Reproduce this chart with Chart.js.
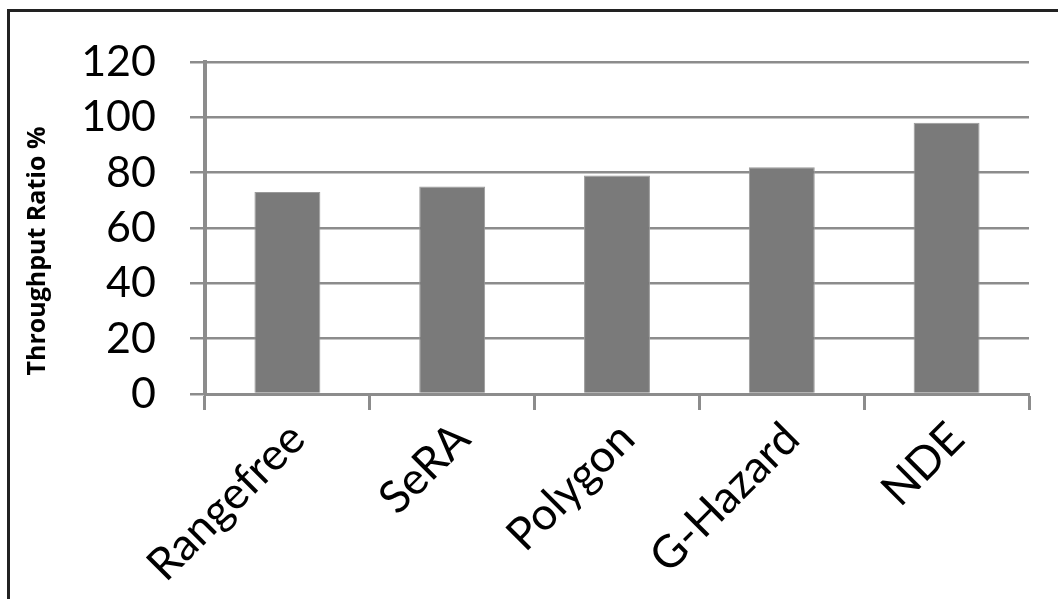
<!DOCTYPE html>
<html>
<head>
<meta charset="utf-8">
<script src="https://cdn.jsdelivr.net/npm/chart.js@4.4.0/dist/chart.umd.min.js"></script>
<style>
  html, body { margin: 0; padding: 0; background: #fff; }
  #wrap { position: relative; width: 1058px; height: 599px; overflow: hidden; }
  #frame { position: absolute; left: 7px; top: 9px; right: -10px; bottom: -10px; border-top: 3px solid #222; border-left: 3px solid #222; }
  canvas { position: absolute; left: 0; top: 0; }
</style>
</head>
<body>
<div id="wrap">
  <div id="frame"></div>
  <canvas id="chart" width="1058" height="599"></canvas>
</div>
<script>
const categories = ['Rangefree', 'SeRA', 'Polygon', 'G-Hazard', 'NDE']
const throughputRatio = [73, 75, 79, 82, 98]
const yTicks = [0, 20, 40, 60, 80, 100, 120]
const yTitle = 'Throughput Ratio %'

const gridColor = '#8c8c8c'

// axis title drawn by hand so it can sit a bit lower than the chart area centre, like the original
const yTitlePlugin = {
  id: 'yTitle',
  afterDraw: (chart) => {
    const ctx = chart.ctx
    ctx.save()
    ctx.translate(38, 251)
    ctx.rotate(-Math.PI / 2)
    ctx.font = 'bold 25px "Open Sans"'
    ctx.fillStyle = '#000'
    ctx.textAlign = 'center'
    ctx.textBaseline = 'middle'
    ctx.fillText(yTitle, 0, 0)
    ctx.restore()
  }
}

new Chart(document.getElementById('chart'), {
  type: 'bar',
  data: {
    labels: categories,
    datasets: [
      {
        label: yTitle,
        data: throughputRatio,
        backgroundColor: '#7a7a7a',
        borderColor: '#9a9a9a',
        borderWidth: 1,
        barPercentage: 0.8,
        categoryPercentage: 0.5,
      },
    ],
  },
  options: {
    responsive: false,
    animation: false,
    layout: {
      padding: {top: 62, right: 29, bottom: 0, left: 0}
    },
    plugins: {
      legend: {display: false},
      tooltip: {enabled: false},
    },
    scales: {
      x: {
        offset: true,
        grid: {
          offset: true,
          drawOnChartArea: false,
          drawTicks: true,
          tickLength: 16,
          tickWidth: 3,
          tickColor: gridColor,
        },
        border: {display: true, color: gridColor, width: 3},
        ticks: {
          minRotation: 45,
          maxRotation: 45,
          padding: 2,
          labelOffset: 10,
          color: '#000',
          font: {family: 'Lato', size: 45},
        },
        afterFit: (scale) => { scale.height = 599 - 394 }
      },
      y: {
        min: 0,
        max: 120,
        afterBuildTicks: (scale) => { scale.ticks = yTicks.map(v => ({value: v})) },
        grid: {
          color: gridColor,
          lineWidth: 2.5,
          tickLength: 15,
          tickColor: gridColor,
        },
        border: {display: true, color: gridColor, width: 4},
        ticks: {
          padding: 34,
          color: '#000',
          font: {family: 'Lato', size: 43},
        },
        afterFit: (scale) => { scale.width = 205 }
      },
    },
  },
  plugins: [yTitlePlugin],
})
</script>
</body>
</html>
